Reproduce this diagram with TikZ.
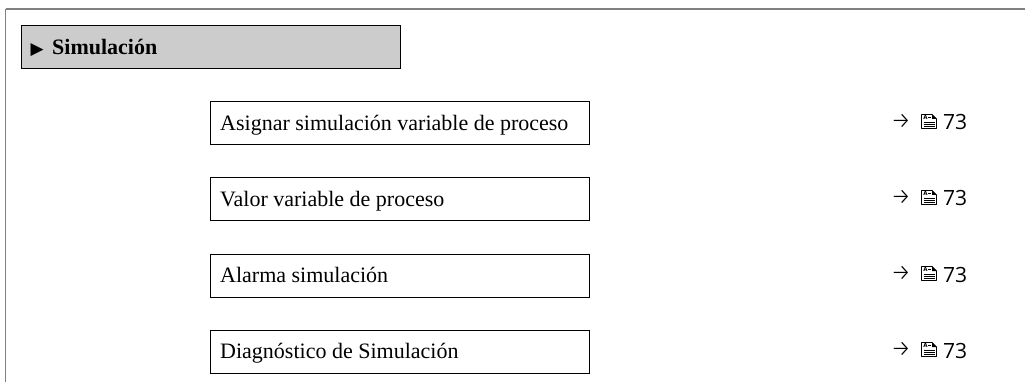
\documentclass[tikz,border=0pt]{standalone}
\usepackage{fontspec}
\setmainfont{Liberation Serif}
\newfontfamily\symfont{DejaVu Sans}
\newfontfamily\arrfont{Fira Sans Light}
\newfontfamily\refsans{Open Sans}
\definecolor{framegray}{HTML}{808080}
\definecolor{headfill}{HTML}{CCCCCC}
\tikzset{
  framerule/.style={draw=framegray, line width=2pt},
  headbox/.style={draw=black, fill=headfill, line width=1pt},
  itembox/.style={draw=black, line width=1pt},
  itemtext/.style={anchor=base west, inner sep=0pt, font=\fontsize{22}{24}\selectfont},
  reftext/.style={anchor=base west, inner sep=0pt, font=\refsans\fontsize{21}{22}\selectfont},
  pageicon/.style={draw=black, line width=0.9pt, line join=round}
}
\newcommand{\myref}[2]{%
  \node[anchor=base west, inner sep=0pt, font=\arrfont\fontsize{23}{23}\selectfont] (#1arr) at (890.5,#2+5) {→};
  \begin{scope}[shift={(921,#2-2)}]
    \draw[pageicon] (0.5,-7) -- (11,-7) -- (15.5,-2.5) -- (15.5,7) -- (0.5,7) -- cycle;
    \fill (11,-7) -- (15.5,-2.5) -- (11,-2.5) -- cycle;
    \node[inner sep=0pt, font=\symfont\bfseries\fontsize{5.5}{5.5}\selectfont] at (4.5,-3.8) {A};
    \draw[line width=0.8pt] (7,-3.8) -- (9.5,-3.8);
    \foreach \yy in {0.5,3,5.3} \draw[line width=0.8pt] (2.5,\yy) -- (13.5,\yy);
  \end{scope}
  \node[reftext] (#1num) at (943,#2+6.5) {73};
}
\begin{document}
\begin{tikzpicture}[x=1pt,y=-1pt]
\useasboundingbox (0,0) rectangle (1025,382);
\coordinate (fb) at (5.5,382);
\coordinate (fc) at (5.5,9);
\coordinate (fe) at (1025,9);
\draw[framerule, line width=1.5pt] (fb) -- (fc);
\draw[framerule] (fc) -- (fe);
\draw[headbox] (21,26) rectangle (400,69);
\node[anchor=base west, inner sep=0pt, font=\symfont\fontsize{17}{17}\selectfont] (tri) at (30.5,55) {▶};
\node[anchor=base west, inner sep=0pt, font=\bfseries\fontsize{22}{24}\selectfont] (head) at (52,54.5) {Simulación};
\draw[itembox] (210,102) rectangle (589,145);
\node[itemtext] (i1) at (220,130.5) {Asignar simulación variable de proceso};
\draw[itembox] (210,178) rectangle (589,221);
\node[itemtext] (i2) at (220,206.5) {Valor variable de proceso};
\draw[itembox] (210,254) rectangle (589,297);
\node[itemtext] (i3) at (220,282.5) {Alarma simulación};
\draw[itembox] (210,330) rectangle (589,373);
\node[itemtext] (i4) at (220,358.5) {Diagnóstico de Simulación};
\myref{r1}{123.5}
\myref{r2}{199.5}
\myref{r3}{275.5}
\myref{r4}{351.5}
\end{tikzpicture}
\end{document}
